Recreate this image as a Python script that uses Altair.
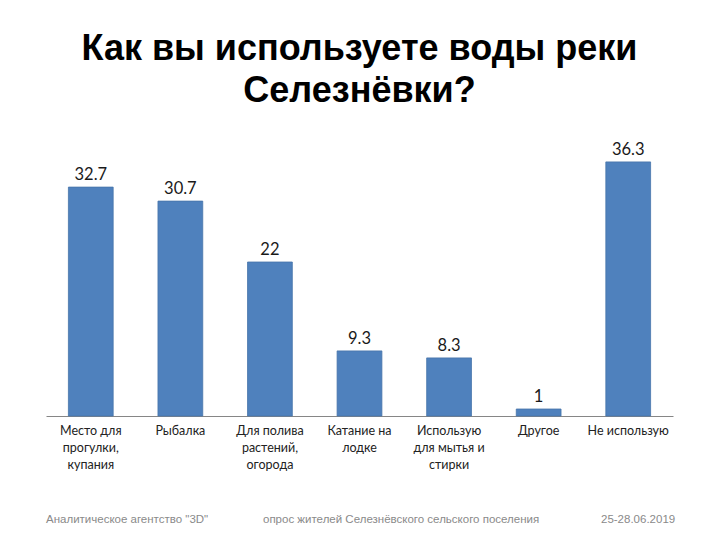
import altair as alt
import pandas as pd

categories = [
    "Место для\nпрогулки,\nкупания",
    "Рыбалка",
    "Для полива\nрастений,\nогорода",
    "Катание на\nлодке",
    "Использую\nдля мытья и\nстирки",
    "Другое",
    "Не использую",
]
values = [32.7, 30.7, 22, 9.3, 8.3, 1, 36.3]
labels = ["32.7", "30.7", "22", "9.3", "8.3", "1", "36.3"]

title_lines = ["Как вы используете воды реки", "Селезнёвки?"]
footer_left = 'Аналитическое агентство "3D"'
footer_mid = "опрос жителей Селезнёвского сельского поселения"
footer_right = "25-28.06.2019"

df = pd.DataFrame({"cat": categories, "val": values, "lab": labels})

x = alt.X(
    "cat:N",
    sort=categories,
    title=None,
    scale=alt.Scale(paddingInner=0.5, paddingOuter=0.25),
    axis=alt.Axis(
        labelAngle=0,
        ticks=False,
        domainColor="#868686",
        labelFont="Lato",
        labelFontSize=12.5,
        labelColor="#222222",
        labelPadding=8,
        labelLineHeight=17,
        labelBaseline="top",
        labelExpr="split(datum.label, '\\n')",
    ),
)
y = alt.Y("val:Q", scale=alt.Scale(domain=[0, 40]), axis=None)

base = alt.Chart(df)
bars = base.mark_bar(color="#4F81BD", stroke="#4674AA", strokeWidth=0.8).encode(x=x, y=y)
text = base.mark_text(
    baseline="alphabetic", dy=-7, font="Lato", fontSize=16.5, color="#1a1a1a"
).encode(x=x, y=y, text="lab:N")

def footer(t, xpos):
    return alt.Chart(pd.DataFrame({"t": [t]})).mark_text(
        align="left", baseline="middle", font="Liberation Sans", fontSize=11.5, color="#8a8a8a"
    ).encode(text="t:N", x=alt.value(xpos), y=alt.value(384))

chart = alt.layer(
    bars, text,
    footer(footer_left, 0),
    footer(footer_mid, 217),
    footer(footer_right, 555),
).properties(
    width=627,
    height=280,
    autosize=alt.AutoSizeParams(type="none"),
    padding={"left": 38, "top": 128, "right": 39, "bottom": 116},
    title=alt.TitleParams(
        text=title_lines,
        font="Liberation Sans",
        fontSize=36,
        fontWeight="bold",
        color="#000000",
        anchor="middle",
        baseline="alphabetic",
        lineHeight=42,
        offset=-2,
    ),
).configure(background="white", view=alt.ViewConfig(strokeWidth=0))

chart.save("out.html", embed_options={"renderer": "svg", "actions": False})
